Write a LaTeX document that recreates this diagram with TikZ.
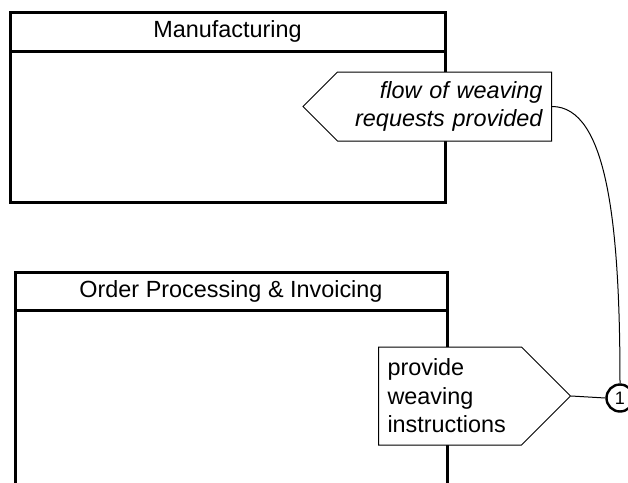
\documentclass[tikz,border=0pt]{standalone}
\usepackage{fontspec}
\setmainfont{Liberation Sans}
\usetikzlibrary{shapes.symbols}

\tikzstyle{lane}=[draw=black,line width=1.5pt]
\tikzstyle{title}=[inner sep=0pt,font=\fontsize{11.7}{14}\selectfont]
\tikzstyle{flag}=[signal,draw=black,fill=white,line width=0.5pt,inner xsep=4.5pt,font=\fontsize{11.7}{14.2}\selectfont]
\tikzstyle{num}=[circle,draw=black,fill=white,line width=1.2pt,inner sep=0pt,minimum size=13.5pt,font=\fontsize{9}{10}\selectfont]

\begin{document}
\begin{tikzpicture}[x=0.5pt,y=-0.5pt]
		\useasboundingbox (0,0) rectangle (628,483);

		% the two swimlanes
		\draw[lane] (10,12) rectangle (445,202.5);
		\draw[lane] (10,51) -- (445,51);
		\node (m) at (227.5,31.5) [title] {Manufacturing};

		\draw[lane] (15,490) -- (15,272) -- (447,272) -- (447,490);
		\draw[lane] (15,310) -- (447,310);
		\node (o) at (231,291) [title] {Order Processing \& Invoicing};

		% flags on the lane borders
		\node (f) at (552,106.5) [flag,anchor=east,signal to=west,text width=98pt,minimum height=34.5pt,align=right] {\itshape flow of weaving\\ requests provided};
		\node (p) at (378,396) [flag,anchor=west,signal to=east,text width=62.5pt,minimum height=49pt,align=left] {provide\\ weaving\\ instructions};

		\node (c) at (620,398) [num] {1};

		\draw[line width=0.5pt] (f.east) .. controls +(55,0) and +(0,-160) .. (c.north);
		\draw[line width=0.5pt] (p.east) -- (c.west);
	\end{tikzpicture}
\end{document}
